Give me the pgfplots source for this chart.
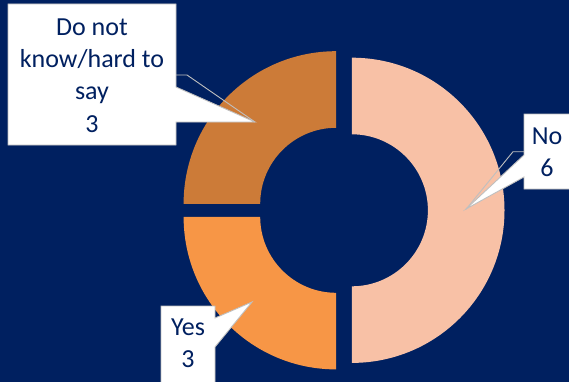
\documentclass[border=0pt]{standalone}
\usepackage{fontspec}
\setmainfont{Carlito}
\usepackage{pgfplots}
\usepackage{pgfplotstable}
\pgfplotsset{compat=1.18}
\definecolor{bg}{HTML}{002060}
\definecolor{txt}{HTML}{002060}
\definecolor{cNo}{HTML}{F8C1A6}
\definecolor{cYes}{HTML}{F79646}
\definecolor{cDK}{HTML}{CC7B38}
\definecolor{edge}{HTML}{BFBFBF}

\pgfplotstableread{
label value
No 6
Yes 3
DK 3
}\donutdata

\newcommand\seg[5]{\fill[#1] (axis cs:#2,#3) ++(#4:152.6pt) arc[start angle=#4,end angle=#5,radius=152.6pt] -- ++(#5:-76.6pt) arc[start angle=#5,end angle=#4,radius=76pt] -- cycle;}

\begin{document}
\begin{tikzpicture}
\pgfplotstablegetelem{0}{value}\of\donutdata \pgfmathsetmacro\vNo{\pgfplotsretval}
\pgfplotstablegetelem{1}{value}\of\donutdata \pgfmathsetmacro\vYes{\pgfplotsretval}
\pgfplotstablegetelem{2}{value}\of\donutdata \pgfmathsetmacro\vDK{\pgfplotsretval}
\pgfmathsetmacro\tot{\vNo+\vYes+\vDK}
\pgfmathsetmacro\aA{90}
\pgfmathsetmacro\aB{\aA-360*\vNo/\tot}
\pgfmathsetmacro\aC{\aB-360*\vYes/\tot}
\pgfmathsetmacro\aD{\aC-360*\vDK/\tot}
\def\bx{342.7}\def\by{170.7}\def\ex{9.2}
\pgfmathsetmacro\noX{\bx+\ex*cos((\aA+\aB)/2)}
\pgfmathsetmacro\noY{\by+\ex*sin((\aA+\aB)/2)}
\pgfmathsetmacro\yesX{\bx+\ex*cos((\aB+\aC)/2)}
\pgfmathsetmacro\yesY{\by+\ex*sin((\aB+\aC)/2)}
\pgfmathsetmacro\dkX{\bx+\ex*cos((\aC+\aD)/2)}
\pgfmathsetmacro\dkY{\by+\ex*sin((\aC+\aD)/2)}
\begin{axis}[
  width=569pt, height=381pt, scale only axis,
  xmin=0, xmax=569, ymin=0, ymax=381,
  hide axis, clip=true,
]
\fill[bg] (axis cs:-5,-5) rectangle (axis cs:575,390);
\coordinate (BL) at (axis cs:0,0);
\coordinate (TR) at (axis cs:569,381);
\seg{cNo}{\noX}{\noY}{\aA}{\aB}
\seg{cYes}{\yesX}{\yesY}{\aB}{\aC}
\seg{cDK}{\dkX}{\dkY}{\aC}{\aD}
% callouts
\filldraw[fill=white, draw=edge, line width=0.9pt, line join=miter]
  (axis cs:8,377) -- (axis cs:176,377) -- (axis cs:176,294) -- (axis cs:255,259)
  -- (axis cs:176,259) -- (axis cs:176,236) -- (axis cs:8,236) -- cycle;
\draw[edge, line width=0.9pt] (axis cs:176,306) -- (axis cs:187,306) -- (axis cs:255,259);
\filldraw[fill=white, draw=edge, line width=0.9pt, line join=miter]
  (axis cs:524,267) -- (axis cs:580,267) -- (axis cs:580,192) -- (axis cs:524,192)
  -- (axis cs:524,204) -- (axis cs:466,172) -- (axis cs:524,226) -- cycle;
\draw[edge, line width=0.9pt] (axis cs:524,229.3) -- (axis cs:513,229.3) -- (axis cs:466,171.7);
\filldraw[fill=white, draw=edge, line width=0.9pt, line join=miter]
  (axis cs:161,75) -- (axis cs:215,75) -- (axis cs:215,63) -- (axis cs:252,79)
  -- (axis cs:215,34) -- (axis cs:215,-11) -- (axis cs:161,-11) -- cycle;
\node[text=txt, align=center, inner sep=0pt, font=\fontsize{26}{32.3}\selectfont] at (axis cs:92,305.6) {Do not\\know/hard to\\say\\3};
\node[text=txt, align=center, inner sep=0pt, font=\fontsize{26}{32.3}\selectfont] at (axis cs:547,228.5) {No\\6};
\node[text=txt, align=center, inner sep=0pt, font=\fontsize{26}{32.3}\selectfont] at (axis cs:188,37.7) {Yes\\3};
\end{axis}
\pgfresetboundingbox
\useasboundingbox (BL) rectangle (TR);
\end{tikzpicture}
\end{document}
